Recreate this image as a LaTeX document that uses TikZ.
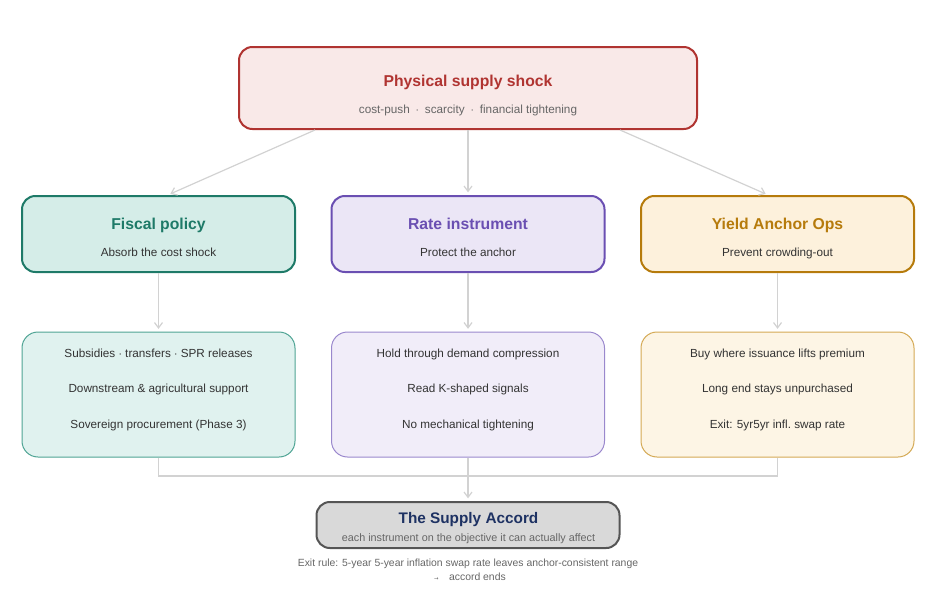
\documentclass[tikz,border=0pt]{standalone}
\usepackage{fontspec}
\setmainfont{Liberation Sans}
\newfontfamily\symfont{DejaVu Sans}
\usetikzlibrary{arrows.meta}

\definecolor{shockline}{HTML}{B03431}
\definecolor{shockfill}{HTML}{F9E9E8}
\definecolor{fiscline}{HTML}{1E7A68}
\definecolor{fiscfill}{HTML}{D5EDE8}
\definecolor{fiscsoft}{HTML}{4FA494}
\definecolor{fiscpale}{HTML}{E0F2EF}
\definecolor{rateline}{HTML}{6A4FB2}
\definecolor{ratefill}{HTML}{EBE6F6}
\definecolor{ratesoft}{HTML}{9A88CD}
\definecolor{ratepale}{HTML}{F1EDF9}
\definecolor{yieldline}{HTML}{B67B0C}
\definecolor{yieldfill}{HTML}{FDF1DC}
\definecolor{yieldsoft}{HTML}{D4A954}
\definecolor{yieldpale}{HTML}{FDF5E5}
\definecolor{accordline}{HTML}{555555}
\definecolor{accordfill}{HTML}{D9D9D9}
\definecolor{accordtext}{HTML}{1E3263}
\definecolor{wire}{HTML}{D2D2D2}
\definecolor{subgray}{HTML}{666666}
\definecolor{bodytext}{HTML}{333333}

\begin{document}
\begin{tikzpicture}[x=0.75pt,y=-0.75pt]
    \useasboundingbox (0,0) rectangle (936,596);
    \tikzstyle{box}=[rectangle, rounded corners=10pt, line width=1.5pt, minimum width=204.75pt, minimum height=57pt]
    \tikzstyle{actbox}=[rectangle, rounded corners=12pt, line width=0.75pt, minimum width=204.75pt, minimum height=93.75pt]
    \tikzstyle{title}=[inner sep=0pt, anchor=base, font=\fontsize{11.8}{14}\selectfont\bfseries]
    \tikzstyle{sub}=[inner sep=0pt, anchor=base, font=\fontsize{8.8}{10}\selectfont, text=bodytext]
    \tikzstyle{arrow}=[wire, line width=0.9pt, -{Straight Barb[length=4pt,width=6pt]}, shorten >=2pt]

    % source of the shock
    \node[box, draw=shockline, fill=shockfill, minimum width=343.5pt, minimum height=61.5pt] (shock) at (468,88) {};
    \node[title, text=shockline] (shocktitle) at (468,86.5) {Physical supply shock};
    \node[sub, text=subgray] (shocksub) at (468,113) {cost-push\enspace$\cdot$\enspace scarcity\enspace$\cdot$\enspace financial tightening};

    % the three instruments
    \node[box, draw=fiscline, fill=fiscfill] (fiscal) at (158.5,234) {};
    \node[box, draw=rateline, fill=ratefill] (rate) at (468,234) {};
    \node[box, draw=yieldline, fill=yieldfill] (yield) at (777.5,234) {};
    \node[title, text=fiscline] (fiscaltitle) at (158.5,229.5) {Fiscal policy};
    \node[title, text=rateline] (ratetitle) at (468,229.5) {Rate instrument};
    \node[title, text=yieldline] (yieldtitle) at (777.5,229.5) {Yield Anchor Ops};
    \node[sub] (fiscalsub) at (158.5,256) {Absorb the cost shock};
    \node[sub] (ratesub) at (468,256) {Protect the anchor};
    \node[sub] (yieldsub) at (777.5,256) {Prevent crowding-out};

    % what each one does
    \node[actbox, draw=fiscsoft, fill=fiscpale] (fiscalact) at (158.5,394.5) {};
    \node[actbox, draw=ratesoft, fill=ratepale] (rateact) at (468,394.5) {};
    \node[actbox, draw=yieldsoft, fill=yieldpale] (yieldact) at (777.5,394.5) {};
    \node[sub] (fa1) at (158.5,357) {Subsidies $\cdot$ transfers $\cdot$ SPR releases};
    \node[sub] (fa2) at (158.5,392) {Downstream \& agricultural support};
    \node[sub] (fa3) at (158.5,428) {Sovereign procurement (Phase 3)};
    \node[sub] (ra1) at (468,357) {Hold through demand compression};
    \node[sub] (ra2) at (468,392) {Read K-shaped signals};
    \node[sub] (ra3) at (468,428) {No mechanical tightening};
    \node[sub] (ya1) at (777.5,357) {Buy where issuance lifts premium};
    \node[sub] (ya2) at (777.5,392) {Long end stays unpurchased};
    \node[sub] (ya3) at (777.5,428) {Exit: 5yr5yr infl.\ swap rate};

    % the accord
    \node[box, draw=accordline, fill=accordfill, minimum width=227.25pt, minimum height=34.5pt] (accord) at (468,525) {};
    \node[title, text=accordtext, font=\fontsize{11.5}{14}\selectfont\bfseries] (accordtitle) at (468.5,523.5) {The Supply Accord};
    \node[sub, text=subgray, font=\fontsize{8.1}{10}\selectfont] (accordsub) at (468.5,541) {each instrument on the objective it can actually affect};
    \node[sub, text=subgray, font=\fontsize{7.8}{9}\selectfont] (exit1) at (468,566.5) {Exit rule: 5-year 5-year inflation swap rate leaves anchor-consistent range};
    \node[sub, text=subgray, font=\fontsize{7.8}{9}\selectfont] (exit2) at (470,580.5) {{\symfont\fontsize{4}{5}\selectfont →}\quad accord ends};

    \draw[arrow] ([xshift=-114.75pt]shock.south) -- ([xshift=7pt]fiscal.north);
    \draw[arrow] (shock.south) -- (rate.north);
    \draw[arrow] ([xshift=114pt]shock.south) -- ([xshift=-7pt]yield.north);
    \draw[arrow] (fiscal.south) -- (fiscalact.north);
    \draw[arrow] (rate.south) -- (rateact.north);
    \draw[arrow] (yield.south) -- (yieldact.north);

    \coordinate (join) at (468,476);
    \draw[wire, line width=0.9pt] (fiscalact.south) |- (join) -| (yieldact.south);
    \draw[arrow] (rateact.south) -- (accord.north);
\end{tikzpicture}
\end{document}
